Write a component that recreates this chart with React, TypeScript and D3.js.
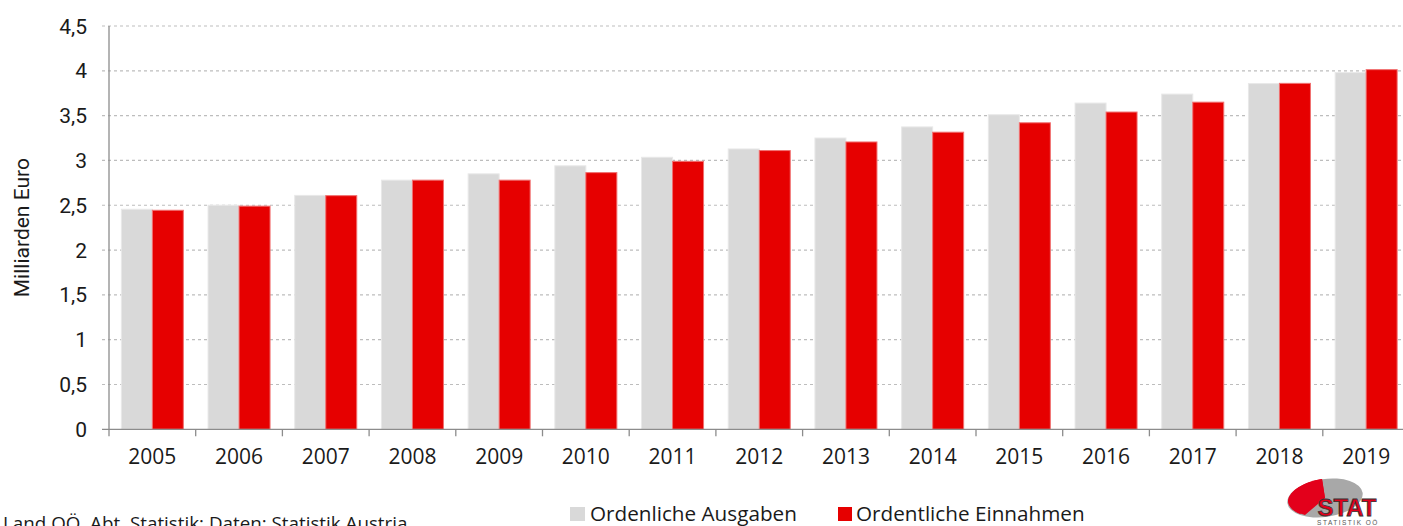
import React from "react";
import * as d3 from "d3";

const years = ["2005","2006","2007","2008","2009","2010","2011","2012","2013","2014","2015","2016","2017","2018","2019"];
const ausgaben = [2.455, 2.50, 2.61, 2.78, 2.85, 2.94, 3.035, 3.128, 3.25, 3.374, 3.51, 3.64, 3.74, 3.857, 3.98];
const einnahmen = [2.444, 2.49, 2.607, 2.78, 2.78, 2.864, 2.99, 3.11, 3.206, 3.315, 3.42, 3.54, 3.65, 3.86, 4.013];
const yTicks = [0, 0.5, 1, 1.5, 2, 2.5, 3, 3.5, 4, 4.5];
const seriesNames = ["Ordenliche Ausgaben", "Ordentliche Einnahmen"];
const seriesColors = ["#d9d9d9", "#e60000"];
const yTitle = "Milliarden Euro";
const source = "Land OÖ, Abt. Statistik; Daten: Statistik Austria";

const W = 1403, H = 526;
const left = 109, right = 1409.5, top = 26, bottom = 429.3;

export default function App() {
  const x = d3.scaleBand<string>().domain(years).range([left, right]).paddingInner(0).paddingOuter(0);
  const y = d3.scaleLinear().domain([0, 4.5]).range([bottom, top]);
  const bw = x.bandwidth();
  const barW = 31;
  const off = (bw - 2 * barW) / 2;
  const fmt = (v: number) => String(v).replace(".", ",");
  const tickFont = "'Liberation Sans Narrow', 'Roboto', 'Arial Narrow', sans-serif";
  const labelFont = "'Open Sans', 'Noto Sans', sans-serif";

  return (
    <svg width={W} height={H} style={{ position: "absolute", left: 0, top: 0, display: "block", background: "#fff" }}>
      {yTicks.filter(t => t > 0).map(t => (
        <line key={"g" + t} x1={left - 7} x2={right} y1={y(t)} y2={y(t)} stroke="#bdbdbd" strokeWidth={1.2} strokeDasharray="3,3" />
      ))}
      {years.map((yr, i) => (
        <g key={yr}>
          <rect x={x(yr)! + off} y={y(ausgaben[i])} width={barW} height={bottom - y(ausgaben[i])} fill={seriesColors[0]} stroke="#e8e8e8" strokeWidth={1} />
          <rect x={x(yr)! + off + barW} y={y(einnahmen[i])} width={barW} height={bottom - y(einnahmen[i])} fill={seriesColors[1]} stroke="#f07070" strokeWidth={1} />
        </g>
      ))}
      <line x1={left} x2={left} y1={top} y2={bottom} stroke="#8c8c8c" strokeWidth={1.3} />
      <line x1={left - 7} x2={right} y1={bottom} y2={bottom} stroke="#8c8c8c" strokeWidth={1.3} />
      {years.map(yr => (
        <line key={"t" + yr} x1={x(yr)!} x2={x(yr)!} y1={bottom} y2={bottom + 7} stroke="#8c8c8c" strokeWidth={1.3} />
      ))}
      {yTicks.map(t => (
        <text key={"yl" + t} x={left - 22} y={y(t)} dy="0.36em" textAnchor="end" fontFamily={tickFont} fontSize={21} fill="#1a1a1a">{fmt(t)}</text>
      ))}
      {years.map(yr => (
        <text key={"xl" + yr} x={x(yr)! + bw / 2} y={464} textAnchor="middle" fontFamily={labelFont} fontSize={21} fill="#1a1a1a">{yr}</text>
      ))}
      <text transform={`translate(29, ${(top + bottom) / 2}) rotate(-90)`} textAnchor="middle" fontFamily={tickFont} fontSize={21} fill="#1a1a1a">{yTitle}</text>
      {/* legend */}
      <rect x={570} y={507} width={15} height={14} fill={seriesColors[0]} />
      <text x={590} y={521} fontFamily={labelFont} fontSize={20.7} fill="#1a1a1a">{seriesNames[0]}</text>
      <rect x={838} y={507} width={14} height={14} fill={seriesColors[1]} />
      <text x={856} y={521} fontFamily={labelFont} fontSize={20.7} fill="#1a1a1a">{seriesNames[1]}</text>
      {/* source */}
      <text x={3} y={530} fontFamily={labelFont} fontSize={18.8} fill="#1a1a1a">{source}</text>
      {/* logo */}
      <g>
        <ellipse cx={1325} cy={498} rx={38} ry={19} fill="#a8a8a8" transform="rotate(-8 1325 498)" />
        <path d="M1322,479 A38,19 -8 0,0 1300,514 L1325,498 Z" fill="#e3001b" />
        <path d="M1322,479 A38,19 -8 0,0 1288,500 A38,19 -8 0,0 1305,515 L1325,498 Z" fill="#e3001b" />
        <text x={1347} y={516} textAnchor="middle" fontFamily="'Liberation Sans', Arial, sans-serif" fontWeight="bold" fontSize={24} fill="#e3001b" stroke="#333" strokeWidth={0.8} textLength={59} lengthAdjust="spacingAndGlyphs">STAT</text>
        <text x={1348} y={525} textAnchor="middle" fontFamily="'Liberation Sans', Arial, sans-serif" fontSize={6.5} letterSpacing={1.5} fill="#555">STATISTIK OÖ</text>
      </g>
    </svg>
  );
}
